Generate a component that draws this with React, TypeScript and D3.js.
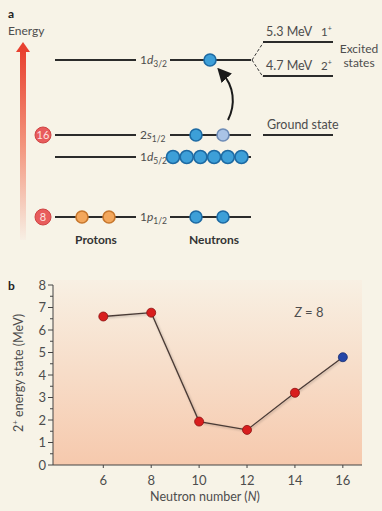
import React from "react";
import * as d3 from "d3";

// ---------- Panel a data ----------
const levelNames = ["1p", "1d", "2s", "1d"];
const levelSubs = ["1/2", "5/2", "1/2", "3/2"];
const levelEnergy = [0, 3.0, 4.1, 7.85]; // schematic relative energies
const protonCounts = [2, 0, 0, 0];
const neutronCounts = [2, 6, 2, 1];
const magicNumbers = ["8", "16"];
const magicLevels = [0, 2];
const excitedEnergies = ["5.3 MeV", "4.7 MeV"];
const excitedSpins = ["1", "2"];

// ---------- Panel b data ----------
const neutronNumbers = [6, 8, 10, 12, 14, 16];
const energies2plus = [6.6, 6.77, 1.93, 1.56, 3.21, 4.79];
const yTicks = [0, 1, 2, 3, 4, 5, 6, 7, 8];
const xTicks = [6, 8, 10, 12, 14, 16];

const BG = "#f7f3e7";
const TXT = "#4d4d4d";
const FONT = "Lato, 'Open Sans', sans-serif";

function Ball({ cx, cy, kind, r = 6 }: { cx: number; cy: number; kind: string; r?: number }) {
  const fills: Record<string, [string, string]> = {
    blue: ["#3d9fd8", "#1d6aa3"],
    light: ["#a9c3e6", "#6d8bb6"],
    orange: ["#f3a75c", "#c7772d"],
  };
  const [f, s] = fills[kind];
  return <circle cx={cx} cy={cy} r={r} fill={f} stroke={s} strokeWidth={1.6} />;
}

export default function App() {
  const yLevel = d3.scaleLinear().domain([0, 7.85]).range([217, 60]);
  const leftX0 = 55, leftX1 = 136, rightX0 = 170, rightX1 = 251;

  const x = d3.scaleLinear().domain([3.9, 16.8]).range([53, 362]);
  const y = d3.scaleLinear().domain([0, 8]).range([465, 285]);
  const line = d3
    .line<number>()
    .x((_, i) => x(neutronNumbers[i]))
    .y((d) => y(d));
  const halfTicks = d3.range(0.5, 8, 1);

  const neutronPositions = (count: number): number[] => {
    if (count === 6) return d3.range(6).map((i) => 173 + i * 13.7);
    if (count === 2) return [196, 223];
    if (count === 1) return [210];
    return [];
  };

  return (
    <svg
      width={382}
      height={511}
      style={{ position: "absolute", left: 0, top: 0, background: BG }}
      fontFamily={FONT}
    >
      <defs>
        <linearGradient id="energyGrad" x1="0" y1="0" x2="0" y2="1">
          <stop offset="0%" stopColor="#e8402f" />
          <stop offset="50%" stopColor="#f3947c" />
          <stop offset="100%" stopColor="#f7efe4" />
        </linearGradient>
        <linearGradient id="plotGrad" x1="0" y1="0" x2="0" y2="1">
          <stop offset="0%" stopColor="#f8f0e3" />
          <stop offset="100%" stopColor="#f6c9ad" />
        </linearGradient>
        <marker id="arrowHead" viewBox="0 0 10 10" refX="5" refY="5" markerWidth="7" markerHeight="7" orient="auto">
          <path d="M0,0 L10,5 L0,10 Z" fill="#1a1a1a" />
        </marker>
        <filter id="shadow" x="-10%" y="-10%" width="120%" height="120%">
          <feDropShadow dx="1" dy="1" stdDeviation="0.8" floodColor="#000" floodOpacity="0.25" />
        </filter>
      </defs>

      {/* ---------------- Panel a ---------------- */}
      <text x={8} y={18} fontSize={12} fontWeight="bold" fill="#222">a</text>
      <text x={8} y={35} fontSize={12} fill={TXT}>Energy</text>
      <rect x={20} y={50} width={6} height={190} fill="url(#energyGrad)" />
      <path d="M16,52 L23,42 L30,52 Z" fill="#e8402f" />

      {levelEnergy.map((e, i) => {
        const ly = yLevel(e);
        const pc = protonCounts[i];
        const nc = neutronCounts[i];
        const nx = neutronPositions(nc);
        return (
          <g key={i}>
            <line x1={leftX0} x2={leftX1} y1={ly} y2={ly} stroke="#2b2b2b" strokeWidth={2} />
            <line x1={rightX0} x2={rightX1} y1={ly} y2={ly} stroke="#2b2b2b" strokeWidth={2} />
            <text x={140} y={ly + 4} fontSize={12} fill={TXT}>
              {levelNames[i].slice(0, 1)}
              <tspan fontStyle="italic">{levelNames[i].slice(1)}</tspan>
              <tspan fontSize={8.5} dy={3}>{levelSubs[i]}</tspan>
            </text>
            {pc === 2 && (
              <>
                <Ball cx={82} cy={ly} kind="orange" />
                <Ball cx={109} cy={ly} kind="orange" />
              </>
            )}
            {nx.map((cx, j) => (
              <Ball
                key={j}
                cx={cx}
                cy={ly}
                kind={i === 2 && j === 1 ? "light" : "blue"}
                r={nc === 6 ? 6.5 : 6}
              />
            ))}
          </g>
        );
      })}

      {magicLevels.map((li, i) => (
        <g key={i}>
          <circle cx={43} cy={yLevel(levelEnergy[li])} r={8} fill="#e85c5c" stroke="#cf4444" strokeWidth={1} />
          <text
            x={43}
            y={yLevel(levelEnergy[li]) + 4}
            textAnchor="middle"
            fontSize={11}
            fill="#fde3e0"
          >
            {magicNumbers[i]}
          </text>
        </g>
      ))}

      <path
        d={`M228,120 C236,104 234,86 222,73`}
        fill="none"
        stroke="#1a1a1a"
        strokeWidth={2}
        markerEnd="url(#arrowHead)"
      />

      <line x1={252} y1={60} x2={263} y2={43} stroke="#333" strokeWidth={1} strokeDasharray="3,2" />
      <line x1={252} y1={60} x2={263} y2={77} stroke="#333" strokeWidth={1} strokeDasharray="3,2" />
      {excitedEnergies.map((t, i) => {
        const ly = i === 0 ? 42 : 76;
        return (
          <g key={i}>
            <line x1={263} x2={333} y1={ly} y2={ly} stroke="#2b2b2b" strokeWidth={2} />
            <text x={266} y={ly - 6} fontSize={12.5} fill={TXT}>{t}</text>
            <text x={321} y={ly - 6} fontSize={11.5} fill={TXT}>
              {excitedSpins[i]}
              <tspan fontSize={7} dy={-5}>+</tspan>
            </text>
          </g>
        );
      })}
      <text x={359} y={53} fontSize={12} textAnchor="middle" fill={TXT}>Excited</text>
      <text x={359} y={67} fontSize={12} textAnchor="middle" fill={TXT}>states</text>

      <line x1={263} x2={333} y1={135} y2={135} stroke="#2b2b2b" strokeWidth={2} />
      <text x={267} y={129} fontSize={12.5} fill={TXT}>Ground state</text>

      <text x={96} y={244} fontSize={12} fontWeight="bold" textAnchor="middle" fill="#333">Protons</text>
      <text x={214} y={244} fontSize={12} fontWeight="bold" textAnchor="middle" fill="#333">Neutrons</text>

      {/* ---------------- Panel b ---------------- */}
      <text x={8} y={290} fontSize={12} fontWeight="bold" fill="#222">b</text>
      <rect x={53} y={280} width={309} height={185} fill="url(#plotGrad)" />

      <line x1={53} x2={53} y1={285} y2={465} stroke="#444" strokeWidth={1} />
      {yTicks.map((t) => (
        <g key={t}>
          <line x1={48} x2={53} y1={y(t)} y2={y(t)} stroke="#444" strokeWidth={1} />
          <text x={46} y={y(t) + 4.5} fontSize={13} textAnchor="end" fill={TXT}>{t}</text>
        </g>
      ))}
      {halfTicks.map((t) => (
        <line key={t} x1={50} x2={53} y1={y(t)} y2={y(t)} stroke="#444" strokeWidth={1} />
      ))}

      <line x1={53} x2={362} y1={465} y2={465} stroke="#444" strokeWidth={1} />
      {xTicks.map((t) => (
        <g key={t}>
          <line x1={x(t)} x2={x(t)} y1={465} y2={468} stroke="#444" strokeWidth={1} />
          <text x={x(t)} y={485} fontSize={13} textAnchor="middle" fill={TXT}>{t}</text>
        </g>
      ))}

      <text
        transform={`translate(23,${y(4) - 2}) rotate(-90)`}
        fontSize={12.5}
        textAnchor="middle"
        fill={TXT}
      >
        2<tspan fontSize={8} dy={-5}>+</tspan>
        <tspan dy={5}> energy state  (MeV)</tspan>
      </text>
      <text x={205} y={501} fontSize={12.5} textAnchor="middle" fill={TXT}>
        Neutron number (<tspan fontStyle="italic">N</tspan>)
      </text>
      <text x={309} y={317} fontSize={13} textAnchor="middle" fill={TXT}>
        <tspan fontStyle="italic">Z</tspan> = 8
      </text>

      <path d={line(energies2plus) ?? ""} fill="none" stroke="#4a3b36" strokeWidth={1.3} filter="url(#shadow)" />
      {energies2plus.map((v, i) => (
        <circle
          key={i}
          cx={x(neutronNumbers[i])}
          cy={y(v)}
          r={4.5}
          fill={i === energies2plus.length - 1 ? "#2446a8" : "#d81e1e"}
          stroke={i === energies2plus.length - 1 ? "#1a2f70" : "#8a1010"}
          strokeWidth={0.8}
        />
      ))}
    </svg>
  );
}
